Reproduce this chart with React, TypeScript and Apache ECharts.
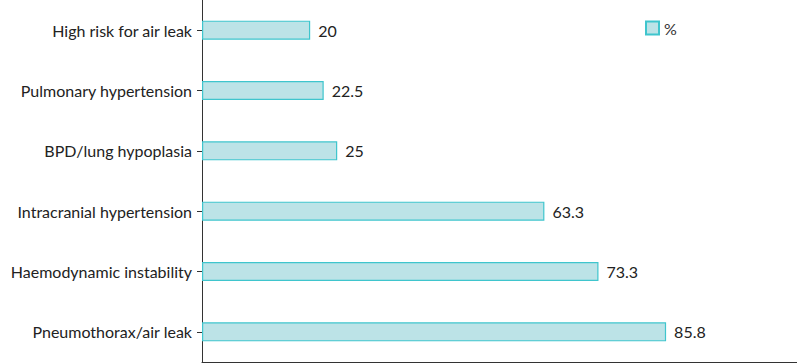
import React, { useEffect, useRef } from "react";
import * as echarts from "echarts";

const categories = [
  "Pneumothorax/air leak",
  "Haemodynamic instability",
  "Intracranial hypertension",
  "BPD/lung hypoplasia",
  "Pulmonary hypertension",
  "High risk for air leak",
];
const values = [85.8, 73.3, 63.3, 25, 22.5, 20];
const seriesName = "%";

export default function App() {
  const ref = useRef<HTMLDivElement>(null);
  useEffect(() => {
    document.body.style.margin = "0";
    if (!ref.current) return;
    const chart = echarts.init(ref.current, undefined, { renderer: "svg" });
    chart.setOption({
      animation: false,
      textStyle: { fontFamily: "Lato" },
      grid: { left: 202, right: 0, top: 0, bottom: 2, containLabel: false },
      legend: {
        data: [seriesName],
        left: 640,
        top: 15,
        icon: "rect",
        itemWidth: 13,
        itemHeight: 13,
        itemGap: 8,
        textStyle: { fontSize: 16, color: "#333", fontFamily: "Lato" },
      },
      xAxis: {
        type: "value",
        min: 0,
        max: 110,
        axisLabel: { show: false },
        splitLine: { show: false },
        axisTick: { show: false },
        axisLine: { show: true, lineStyle: { color: "#333", width: 1 } },
      },
      yAxis: {
        type: "category",
        data: categories,
        axisLine: { show: true, lineStyle: { color: "#333", width: 1 } },
        axisTick: { show: true, alignWithLabel: true, length: 5, lineStyle: { color: "#333" } },
        axisLabel: { fontSize: 16, color: "#222", margin: 10, fontFamily: "Lato" },
      },
      series: [
        {
          name: seriesName,
          type: "bar",
          data: values,
          barWidth: 19,
          itemStyle: { color: "#bce3e7", borderColor: "#3fc5cd", borderWidth: 1.2 },
          label: {
            show: true,
            position: "right",
            distance: 8,
            fontSize: 16,
            color: "#222",
            fontFamily: "Lato",
          },
        },
      ],
    });
    return () => chart.dispose();
  }, []);
  return <div ref={ref} style={{ width: 797, height: 364 }} />;
}
